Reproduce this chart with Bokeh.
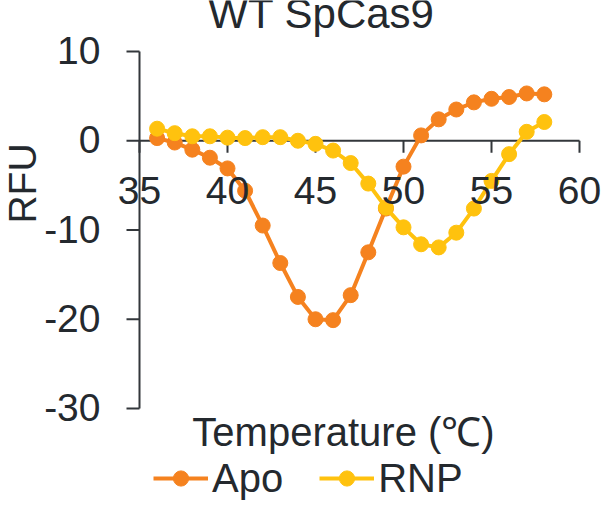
import math
from bokeh.plotting import figure
from bokeh.models import Range1d, Label, Legend, LegendItem
from bokeh.embed import file_html
from bokeh.resources import INLINE

# ---- data ----
temperature = list(range(36, 59))
apo = [0.3, -0.2, -1.0, -1.9, -3.1, -5.6, -9.5, -13.7, -17.5, -20.0, -20.1, -17.3,
       -12.5, -7.6, -2.9, 0.6, 2.4, 3.5, 4.3, 4.7, 4.9, 5.3, 5.2]
rnp = [1.35, 0.85, 0.5, 0.5, 0.35, 0.3, 0.4, 0.4, 0.0, -0.35, -1.1, -2.5,
       -4.8, -7.5, -9.7, -11.6, -11.95, -10.3, -7.6, -4.5, -1.5, 1.0, 2.1]
x_ticks = [35, 40, 45, 50, 55, 60]
y_ticks = [-30, -20, -10, 0, 10]
series_names = ["Apo", "RNP"]
title_text = "WT SpCas9"
x_label = "Temperature (\u2103)"
y_label = "RFU"

ORANGE = "#f5821f"
YELLOW = "#ffc20e"
TEXT = "#24292e"
AXIS = "#33373b"
FONT = "Liberation Sans"

# ---- layout (pixels) ----
W, H = 611, 517
PX_L, PX_R = 139.0, 579.0     # x = 35 .. 60
PY_T, PY_B = 51.0, 408.0      # y = 10 .. -30
x0d, x1d = x_ticks[0], x_ticks[-1]
y0d, y1d = y_ticks[0], y_ticks[-1]
sx = (PX_R - PX_L) / (x1d - x0d)
sy = (PY_B - PY_T) / (y1d - y0d)
SHIFT = 0.38  # baseline correction (fraction of font size) for svg text


def dx(px):
    return x0d + (px - PX_L) / sx


def dy(py):
    return y1d - (py - PY_T) / sy


p = figure(width=W, height=H, min_border=0, output_backend="svg",
           toolbar_location=None, x_axis_type=None, y_axis_type=None,
           x_range=Range1d(dx(0), dx(W)), y_range=Range1d(dy(H), dy(0)))
p.outline_line_color = None
p.grid.visible = False
p.background_fill_color = "white"
p.border_fill_color = "white"

# ---- axes drawn from tick lists ----
p.segment(x0=[x0d], y0=[y0d], x1=[x0d], y1=[y1d], line_color=AXIS, line_width=2)
p.segment(x0=[x0d] * len(y_ticks), y0=y_ticks, x1=[dx(PX_L - 13)] * len(y_ticks),
          y1=y_ticks, line_color=AXIS, line_width=2)
p.segment(x0=[x0d], y0=[0], x1=[x1d], y1=[0], line_color=AXIS, line_width=2)
tick_len = 12 / sy
p.segment(x0=x_ticks, y0=[0] * len(x_ticks), x1=x_ticks, y1=[-tick_len] * len(x_ticks),
          line_color=AXIS, line_width=2)

fs = 39
for t in y_ticks:
    p.add_layout(Label(x=dx(100), y=t - (14 - SHIFT * fs) / sy, text=str(t),
                       text_align="right", text_baseline="alphabetic", text_font=FONT,
                       text_font_size=f"{fs}px", text_color=TEXT))
for t in x_ticks:
    p.add_layout(Label(x=t, y=dy(205 - SHIFT * fs), text=str(t), text_align="center",
                       text_baseline="alphabetic", text_font=FONT,
                       text_font_size=f"{fs}px", text_color=TEXT))

# ---- series ----
l1 = p.line(temperature, apo, line_color=ORANGE, line_width=4)
s1 = p.scatter(temperature, apo, size=15, fill_color=ORANGE, line_color=ORANGE)
l2 = p.line(temperature, rnp, line_color=YELLOW, line_width=4)
s2 = p.scatter(temperature, rnp, size=15, fill_color=YELLOW, line_color=YELLOW)

legend = Legend(items=[LegendItem(label=series_names[0], renderers=[l1, s1]),
                       LegendItem(label=series_names[1], renderers=[l2, s2])],
                orientation="horizontal", location=(153, H - 462.7 - 38), padding=0,
                margin=0, spacing=36, glyph_width=55, glyph_height=38, label_height=38,
                label_standoff=4, label_text_font=FONT, label_text_font_size="40px",
                label_text_color=TEXT, border_line_alpha=0, background_fill_alpha=0)
p.add_layout(legend)

# ---- texts ----
p.add_layout(Label(x=dx(321), y=dy(29 - SHIFT * 42), text=title_text, text_align="center",
                   text_baseline="alphabetic", text_font=FONT, text_font_size="42px",
                   text_color=TEXT))
p.add_layout(Label(x=dx(343), y=dy(446.5 - SHIFT * 40), text=x_label, text_align="center",
                   text_baseline="alphabetic", text_font=FONT, text_font_size="40px",
                   text_color=TEXT))
p.add_layout(Label(x=dx(37 - SHIFT * fs), y=dy(183), text=y_label, text_align="center",
                   text_baseline="alphabetic", angle=math.pi / 2, text_font=FONT,
                   text_font_size=f"{fs}px", text_color=TEXT))

open("out.html", "w").write(file_html(p, INLINE))
